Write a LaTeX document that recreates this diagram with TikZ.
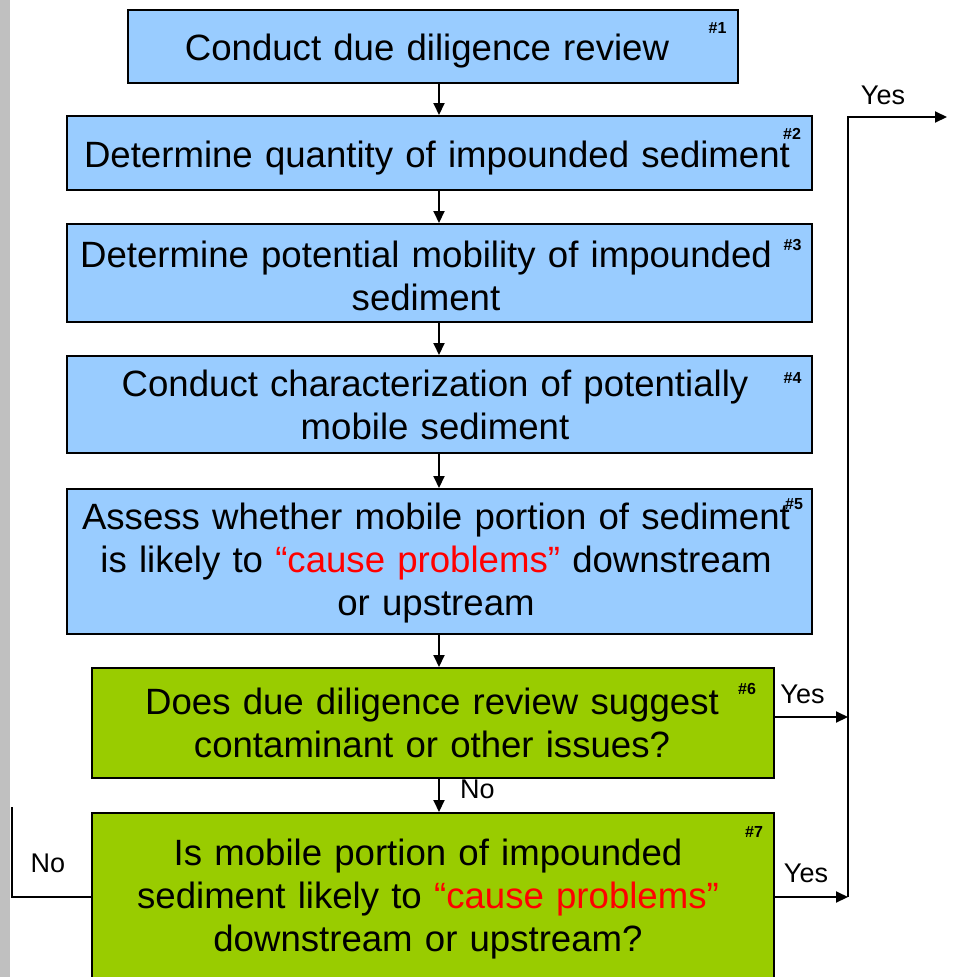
\documentclass[tikz,border=0pt]{standalone}
\usepackage{fontspec}
\setmainfont{Liberation Sans}
\usetikzlibrary{arrows.meta}
\definecolor{boxblue}{HTML}{99CCFF}
\definecolor{boxgreen}{HTML}{99CC00}
\definecolor{stripgray}{HTML}{C0C0C0}
\definecolor{hotred}{HTML}{FF0000}
\tikzset{
  bluebox/.style={draw=black, line width=2pt, fill=boxblue, inner sep=0pt},
  greenbox/.style={draw=black, line width=2pt, fill=boxgreen, inner sep=0pt},
  bodytext/.style={anchor=base, align=center, text width=760pt, inner sep=0pt,
    font=\fontsize{36.6}{43}\selectfont},
  numtag/.style={anchor=base, inner sep=0pt, font=\fontsize{16}{18}\selectfont\bfseries},
  answer/.style={anchor=base, inner sep=0pt, font=\fontsize{27}{30}\selectfont},
  arr/.style={line width=2pt, -{Triangle[length=12pt,width=11pt]}},
  plainline/.style={line width=2pt},
}
\begin{document}
\begin{tikzpicture}[x=1pt,y=-1pt]
\useasboundingbox (0,0) rectangle (955,977);
\clip (0,0) rectangle (955,977);
\fill[stripgray] (0,0) rectangle (10,977);

% boxes
\node[bluebox, minimum width=610pt, minimum height=73pt] (b1) at (433,46.5) {};
\node[bluebox, minimum width=745pt, minimum height=74pt] (b2) at (439.5,153) {};
\node[bluebox, minimum width=745pt, minimum height=98pt] (b3) at (439.5,273) {};
\node[bluebox, minimum width=745pt, minimum height=97pt] (b4) at (439.5,404.5) {};
\node[bluebox, minimum width=745pt, minimum height=145pt] (b5) at (439.5,561.5) {};
\node[greenbox, minimum width=682pt, minimum height=110pt] (b6) at (433,723) {};
\node[greenbox, minimum width=682pt, minimum height=168pt] (b7) at (433,897) {};

% texts
\node[bodytext] (t1) at (427,60) {Conduct due diligence review};
\node[bodytext] (t2) at (437,167) {Determine quantity of impounded sediment};
\node[bodytext] (t3) at (426,267) {Determine potential mobility of impounded\\sediment};
\node[bodytext] (t4) at (435,396) {Conduct characterization of potentially\\mobile sediment};
\node[bodytext] (t5) at (436,529) {Assess whether mobile portion of sediment\\is likely to \textcolor{hotred}{“cause problems”} downstream\\or upstream};
\node[bodytext] (t6) at (432,714) {Does due diligence review suggest\\contaminant or other issues?};
\node[bodytext] (t7) at (428,865) {Is mobile portion of impounded\\sediment likely to \textcolor{hotred}{“cause problems”}\\downstream or upstream?};

% number tags
\node[numtag] (n1) at (717.5,33) {\#1};
\node[numtag] (n2) at (792,139) {\#2};
\node[numtag] (n3) at (792.5,250) {\#3};
\node[numtag] (n4) at (792.5,383) {\#4};
\node[numtag] (n5) at (794,509) {\#5};
\node[numtag] (n6) at (747,694) {\#6};
\node[numtag] (n7) at (754,837) {\#7};

% main flow
\coordinate (ax) at (439,0);
\draw[arr] (b1.south -| ax) -- (b2.north -| ax);
\draw[arr] (b2.south -| ax) -- (b3.north -| ax);
\draw[arr] (b3.south -| ax) -- (b4.north -| ax);
\draw[arr] (b4.south -| ax) -- (b5.north -| ax);
\draw[arr] (b5.south -| ax) -- (b6.north -| ax);
\draw[arr] (b6.south -| ax) -- (b7.north -| ax);

% right rail
\coordinate (railtop) at (848,117);
\coordinate (exit) at (947,117);
\coordinate (y6) at (0,717);
\draw[arr] (b6.east |- y6) -- (railtop |- y6);
\draw[arr] (b7.east) -- (b7.east -| railtop);
\draw[arr] (b7.east -| railtop) -- (railtop) -- (exit);

% left loop
\coordinate (leftend) at (11.5,807);
\draw[plainline] (b7.west) -- (b7.west -| leftend) -- (leftend);

% answer labels
\node[answer] (yes0) at (883,104) {Yes};
\node[answer] (yes6) at (802.5,703) {Yes};
\node[answer] (yes7) at (806,882) {Yes};
\node[answer] (no6) at (477.5,798) {No};
\node[answer] (no7) at (48,872) {No};
\end{tikzpicture}
\end{document}
